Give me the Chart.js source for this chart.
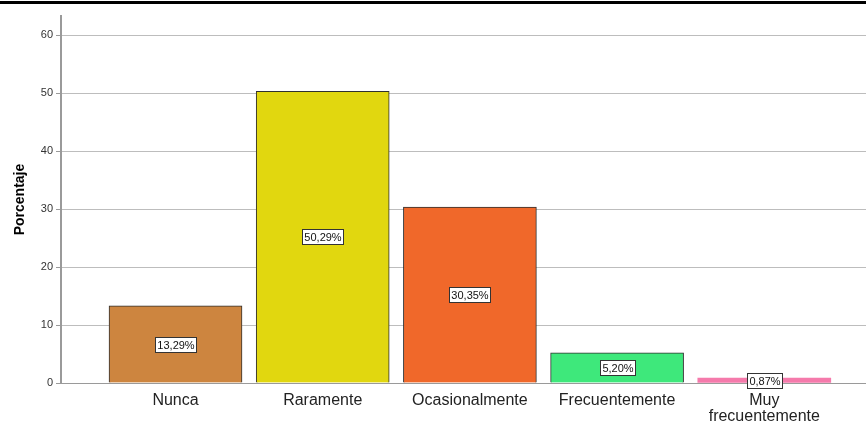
<!DOCTYPE html>
<html>
<head>
<meta charset="utf-8">
<script src="https://cdn.jsdelivr.net/npm/chart.js@4"></script>
<style>
  html, body { margin: 0; padding: 0; background: #fff; }
  #wrap { position: relative; width: 866px; height: 421px; }
  #topline { position: absolute; left: 0; top: 1px; width: 866px; height: 3px; background: #000; }
  canvas { position: absolute; left: 0; top: 0; }
</style>
</head>
<body>
<div id="wrap">
  <canvas id="main" width="866" height="421"></canvas>
  <div id="topline"></div>
</div>
<script>
// frecuencia de respuestas (%)
const categorias = ['Nunca', 'Raramente', 'Ocasionalmente', 'Frecuentemente', ['Muy', 'frecuentemente']];
const porcentajes = [13.29, 50.29, 30.35, 5.20, 0.87];
const colores = ['#cd853f', '#e1d70f', '#f0682a', '#3ee87b', '#f57aab'];
const bordes = [1, 1, 1, 1, 0];
const yTicks = [0, 10, 20, 30, 40, 50, 60];

const fmt = (v) => v.toFixed(2).replace('.', ',') + '%';

// etiquetas con caja blanca en medio de cada barra
const etiquetas = {
  id: 'etiquetas',
  afterDatasetsDraw(chart) {
    const ctx = chart.ctx;
    const meta = chart.getDatasetMeta(0);
    ctx.save();
    ctx.font = '11px "Liberation Sans", Arial, sans-serif';
    ctx.textAlign = 'center';
    ctx.textBaseline = 'middle';
    meta.data.forEach((bar, i) => {
      const txt = fmt(porcentajes[i]);
      const w = Math.round(ctx.measureText(txt).width) + 4;
      const h = 15;
      const cy = (bar.y + bar.base) / 2;
      const x0 = Math.round(bar.x - w / 2) + 0.5;
      const y0 = Math.round(cy - h / 2) + 0.5;
      ctx.fillStyle = '#fff';
      ctx.fillRect(x0, y0, w, h);
      ctx.strokeStyle = '#333';
      ctx.lineWidth = 1;
      ctx.strokeRect(x0, y0, w, h);
      ctx.fillStyle = '#111';
      ctx.fillText(txt, x0 + w / 2, y0 + h / 2 + 0.5);
    });
    ctx.restore();
  }
};

new Chart(document.getElementById('main'), {
  type: 'bar',
  data: {
    datasets: [{
      data: porcentajes.map((v, i) => ({ x: i, y: v })),
      backgroundColor: colores,
      borderColor: '#2f2f2f',
      borderWidth: bordes,
      borderSkipped: 'bottom',
      barThickness: 133
    }]
  },
  options: {
    responsive: false,
    animation: false,
    devicePixelRatio: 1,
    layout: { padding: { top: 16, right: 0, left: 0, bottom: 0 } },
    plugins: { legend: { display: false }, tooltip: { enabled: false } },
    scales: {
      x: {
        type: 'linear',
        offset: false,
        min: -0.778,
        max: 4.691,
        afterBuildTicks: (scale) => { scale.ticks = categorias.map((c, i) => ({ value: i })); },
        afterFit: (scale) => { scale.height = 38; },
        grid: { display: false, offset: false },
        border: { display: true, color: '#9a9a9a', width: 1 },
        ticks: {
          autoSkip: false,
          maxRotation: 0,
          padding: 2,
          color: '#222',
          font: { family: '"Liberation Sans", Arial, sans-serif', size: 16, lineHeight: 1.0 },
          callback: (v) => categorias[v]
        }
      },
      y: {
        min: 0,
        max: 63.3,
        afterBuildTicks: (scale) => { scale.ticks = yTicks.map(v => ({ value: v })); },
        afterFit: (scale) => { scale.width = 61; },
        grid: { color: '#bdbdbd', lineWidth: 1, tickLength: 5, tickColor: '#9a9a9a' },
        border: { display: true, color: '#9a9a9a', width: 2 },
        ticks: {
          padding: 3,
          color: '#333',
          font: { family: '"Liberation Sans", Arial, sans-serif', size: 11 }
        },
        title: {
          display: true,
          text: 'Porcentaje',
          color: '#000',
          padding: { top: 12, bottom: 0 },
          font: { family: '"Liberation Sans", Arial, sans-serif', size: 14, weight: 'bold' }
        }
      }
    }
  },
  plugins: [etiquetas]
});
</script>
</body>
</html>
